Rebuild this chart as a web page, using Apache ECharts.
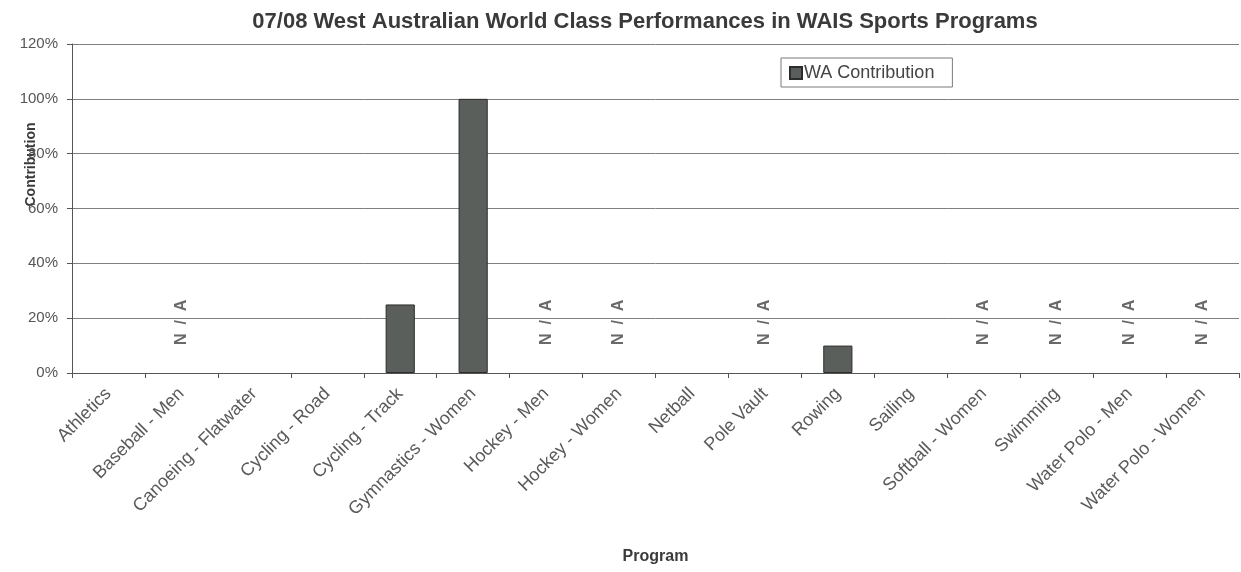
<!DOCTYPE html>
<html lang="en">

<head>
    <meta charset="UTF-8">
    <title>WAIS World Class Performances</title>
    <script type="text/javascript" src="https://cdn.jsdelivr.net/npm/echarts@6.0.0/dist/echarts.min.js"></script>
</head>

<body style="margin:0;background:#fff;">
<div id="main" style="width:1241px;height:572px;"></div>
</body>
<script type="text/javascript">
    const programs = ['Athletics', 'Baseball - Men', 'Canoeing - Flatwater', 'Cycling - Road', 'Cycling - Track',
        'Gymnastics - Women', 'Hockey - Men', 'Hockey - Women', 'Netball', 'Pole Vault', 'Rowing', 'Sailing',
        'Softball - Women', 'Swimming', 'Water Polo - Men', 'Water Polo - Women'];
    // WA contribution in percent (null where no bar was drawn)
    const contribution = [null, null, null, null, 25, 100, null, null, null, null, 10, null, null, null, null, null];
    // programs marked "N / A" on the chart
    const notApplicable = ['Baseball - Men', 'Hockey - Men', 'Hockey - Women', 'Pole Vault',
        'Softball - Women', 'Swimming', 'Water Polo - Men', 'Water Polo - Women'];
    const naLevel = 18.5; // where the N / A text sits on the value axis
    const yTicks = [0, 20, 40, 60, 80, 100, 120];

    const font = 'Liberation Sans, Arial, sans-serif';
    const myChart = echarts.init(document.getElementById('main'));

    const option = {
        backgroundColor: '#fff',
        animation: false,
        textStyle: {fontFamily: font},
        title: {
            text: '07/08 West Australian World Class Performances in WAIS Sports Programs',
            left: 640,
            textAlign: 'center',
            top: 6,
            textStyle: {fontFamily: font, fontSize: 22, fontWeight: 'bold', color: '#3a3a3a'}
        },
        legend: {
            data: ['WA Contribution'],
            left: 781,
            top: 58,
            padding: [6, 18, 5, 8],
            borderColor: '#7a7a7a',
            borderWidth: 1,
            itemWidth: 12,
            itemHeight: 12,
            itemGap: 4,
            icon: 'rect',
            textStyle: {fontFamily: font, fontSize: 18, color: '#444', padding: [0, 0, 0, -3]}
        },
        grid: {left: 72, right: 2, top: 44, bottom: 199, outerBoundsMode: 'none'},
        xAxis: {
            type: 'category',
            data: programs,
            name: 'Program',
            nameLocation: 'middle',
            nameGap: 176,
            nameMoveOverlap: false,
            nameTextStyle: {fontFamily: font, fontSize: 16, fontWeight: 'bold', color: '#3a3a3a'},
            axisLine: {lineStyle: {color: '#555'}},
            axisTick: {show: true, alignWithLabel: false, length: 5, lineStyle: {color: '#555'}},
            axisLabel: {rotate: 45, fontSize: 18, color: '#5a5a5a', margin: 18, interval: 0}
        },
        yAxis: {
            type: 'value',
            min: yTicks[0],
            max: yTicks[yTicks.length - 1],
            interval: 20,
            name: 'Contribution',
            nameLocation: 'middle',
            nameGap: 34,
            nameMoveOverlap: false,
            nameTextStyle: {fontFamily: font, fontSize: 14, fontWeight: 'bold', color: '#3a3a3a', padding: [0, 0, 0, 88]},
            axisLine: {show: true, lineStyle: {color: '#555'}},
            axisTick: {show: true, length: 5, lineStyle: {color: '#555'}},
            axisLabel: {formatter: '{value}%', fontSize: 15, color: '#555', margin: 14},
            splitLine: {lineStyle: {color: '#808080', width: 1}}
        },
        series: [{
            name: 'WA Contribution',
            type: 'bar',
            data: contribution,
            barWidth: '40%',
            itemStyle: {color: '#5b5f5b', borderColor: '#2c2c2c', borderWidth: 1}
        }, {
            name: 'N / A',
            type: 'scatter',
            symbolSize: 0,
            data: programs.map(p => notApplicable.includes(p) ? naLevel : null),
            label: {
                show: true,
                position: 'inside',
                rotate: 90,
                formatter: 'N  /  A',
                fontFamily: font,
                fontSize: 16,
                fontWeight: 'bold',
                color: '#444'
            },
            silent: true
        }]
    };

    myChart.setOption(option);
</script>

</html>
